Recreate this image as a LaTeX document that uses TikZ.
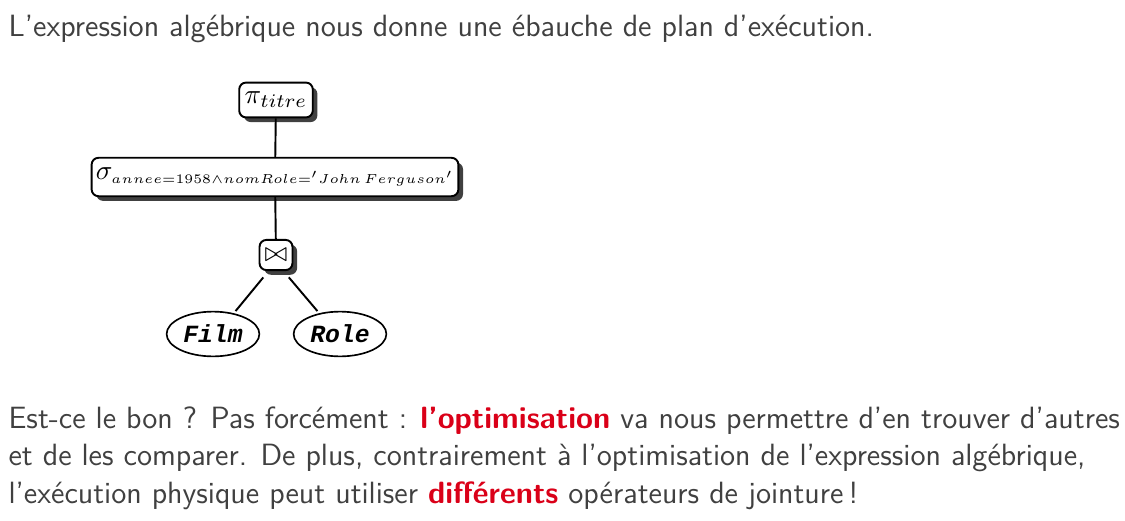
\documentclass[tikz,border=0pt]{standalone}
\usepackage{fontspec}
\usepackage{graphicx}
\newfontfamily\relfont{Liberation Mono}
\usetikzlibrary{shapes.geometric, shadows}
\definecolor{textgray}{RGB}{64,64,64}
\definecolor{alertred}{RGB}{218,0,24}
\newcommand{\alerted}[1]{\textcolor{alertred}{\bfseries #1}}

\begin{document}
\begin{tikzpicture}[x=0.0128cm, y=-0.0128cm, font=\sffamily\fontsize{11.2}{13.6}\selectfont, text=textgray]
	\tikzstyle{op}=[draw, rounded corners=2.5pt, fill=white, line width=0.7pt, text=black, inner sep=2pt, font=\fontsize{10}{12}\selectfont, drop shadow={shadow xshift=1.7pt, shadow yshift=-1.7pt, fill=black!75, opacity=1}]
	\tikzstyle{rel}=[draw, ellipse, line width=0.6pt, text=black, minimum width=33.8pt, minimum height=16.3pt, inner sep=0pt, font=\relfont\bfseries\itshape\fontsize{9}{11}\selectfont]
	\tikzstyle{para}=[anchor=base west, inner sep=0pt]
	\tikzstyle{edge}=[line width=0.7pt]
	\useasboundingbox (0,0) rectangle (1125,521);
	\node (intro) [para] at (8,37) {L'expression algébrique nous donne une ébauche de plan d'exécution.};
	\node (proj) [op, minimum width=25.4pt, minimum height=12.7pt] at (276,100) {$\pi_{titre}$};
	\node (sel) [op, minimum width=130pt, minimum height=14pt, inner xsep=1.5pt] at (275,177) {$\sigma_{\scalebox{0.95}{\fontsize{5.2}{6}\selectfont$annee{=}1958{\wedge}nomRole{=}'John\,Ferguson'$}}$};
	\node (join) [op, minimum width=12pt, minimum height=11pt, inner sep=1pt] at (276,255) {$\bowtie$};
	\node (film) [rel] at (213,334) {Film};
	\node (role) [rel] at (340,334) {Role};
	\draw[edge] (proj) -- (sel);
	\draw[edge] (sel) -- (join);
	\draw[edge, shorten <=3pt, shorten >=1pt] (join.-115) -- (film.45);
	\draw[edge, shorten <=3pt, shorten >=1pt] (join.-65) -- (role.135);
	\node (line1) [para] at (8,428) {Est-ce le bon~? Pas forcément~: \alerted{l'optimisation} va nous permettre d'en trouver d'autres};
	\node (line2) [para] at (8,465) {et de les comparer. De plus, contrairement à l'optimisation de l'expression algébrique,};
	\node (line3) [para] at (8,503) {l'exécution physique peut utiliser \alerted{différents} opérateurs de jointure\,!};
\end{tikzpicture}
\end{document}
